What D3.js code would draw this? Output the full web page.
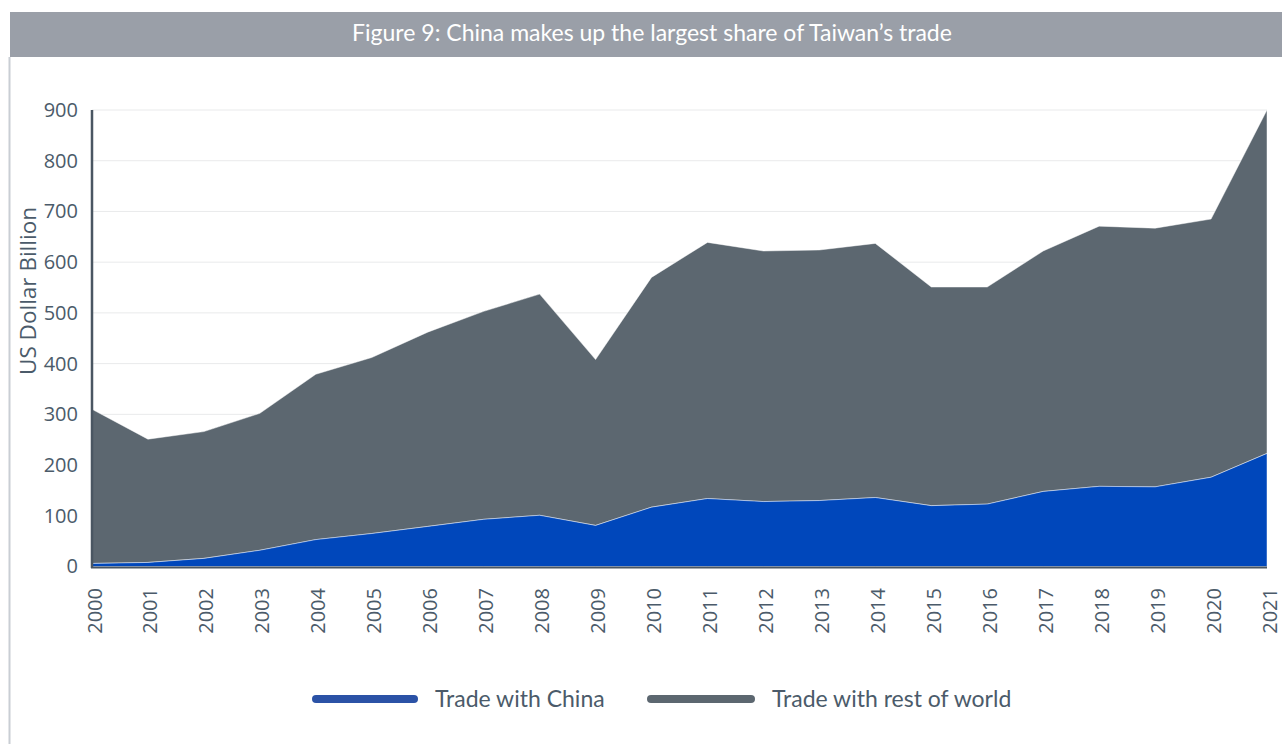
<!DOCTYPE html>
<html>
<head>
<meta charset="utf-8">
<script src="https://cdn.jsdelivr.net/npm/d3@7"></script>
<style>
  html, body { margin: 0; padding: 0; background: #fff; }
  svg { display: block; }
</style>
</head>
<body>
<svg id="chart" width="1282" height="744"></svg>
<script>
// Taiwan's trade, US$ billion
const years = [2000, 2001, 2002, 2003, 2004, 2005, 2006, 2007, 2008, 2009, 2010,
               2011, 2012, 2013, 2014, 2015, 2016, 2017, 2018, 2019, 2020, 2021];
const tradeWithChina = [6, 8, 16, 32, 53, 65, 79, 93, 101, 81, 117,
                        134, 128, 130, 136, 120, 123, 148, 158, 157, 176, 223];
const tradeWithRest = [304, 243, 250, 270, 326, 347, 383, 410, 436, 327, 453,
                       505, 494, 494, 501, 431, 428, 474, 513, 510, 509, 677];
const yTicks = [0, 100, 200, 300, 400, 500, 600, 700, 800, 900];
const seriesNames = ["Trade with China", "Trade with rest of world"];

const colors = { china: "#0047bb", rest: "#5c6770" };
const legendColors = ["#2b52a6", "#5c6770"];
const textColor = "#4b5b6a";

const svg = d3.select("#chart");

// Card frame: header bar and left border
svg.append("rect").attr("x", 10).attr("y", 12).attr("width", 1272).attr("height", 45)
  .attr("fill", "#9a9fa8");
svg.append("line").attr("x1", 9.5).attr("x2", 9.5).attr("y1", 57).attr("y2", 744)
  .attr("stroke", "#c9ced4").attr("stroke-width", 2);
svg.append("text")
  .attr("x", 652).attr("y", 41)
  .attr("text-anchor", "middle")
  .attr("font-family", "Lato, 'Open Sans', sans-serif")
  .attr("font-size", 23)
  .attr("fill", "#ffffff")
  .text("Figure 9: China makes up the largest share of Taiwan\u2019s trade");

const x = d3.scaleLinear().domain([2000, 2021]).range([92, 1267]);
const y = d3.scaleLinear().domain([0, 900]).range([566.5, 110]);

// Gridlines
svg.append("g")
  .selectAll("line")
  .data(yTicks.filter(d => d > 0))
  .join("line")
  .attr("x1", 92).attr("x2", 1267)
  .attr("y1", d => y(d)).attr("y2", d => y(d))
  .attr("stroke", "#e9eaeb").attr("stroke-width", 1);

// Stacked areas
const table = years.map((yr, i) => ({ year: yr, china: tradeWithChina[i], rest: tradeWithRest[i] }));
const stack = d3.stack().keys(["china", "rest"]);
const layers = stack(table);

const area = d3.area()
  .x(d => x(d.data.year))
  .y0(d => y(d[0]))
  .y1(d => y(d[1]));

svg.append("g")
  .selectAll("path")
  .data(layers.slice().reverse())
  .join("path")
  .attr("d", area)
  .attr("fill", d => colors[d.key])
  .attr("stroke", "rgba(255,255,255,0.45)")
  .attr("stroke-width", 1);

// Axes
const yAxis = d3.axisLeft(y).tickValues(yTicks).tickSize(0).tickPadding(14);
const gy = svg.append("g").attr("transform", "translate(92,0)").call(yAxis);
gy.select(".domain").remove();
gy.selectAll("text")
  .attr("font-family", "'Open Sans', 'Noto Sans', sans-serif")
  .attr("font-size", 20)
  .attr("fill", textColor);

svg.append("line").attr("x1", 92).attr("x2", 92).attr("y1", 110).attr("y2", 568)
  .attr("stroke", "#4a5662").attr("stroke-width", 2.5);

const xAxis = d3.axisBottom(x).tickValues(years).tickFormat(d3.format("d")).tickSize(0);
const gx = svg.append("g").attr("transform", "translate(0,567)").call(xAxis);
gx.select(".domain").remove();
gx.selectAll("text")
  .attr("font-family", "'Open Sans', 'Noto Sans', sans-serif")
  .attr("font-size", 20)
  .attr("fill", textColor)
  .attr("text-anchor", "end")
  .attr("dy", null)
  .attr("y", 0)
  .attr("transform", "translate(9,21) rotate(-90)");

svg.append("line").attr("x1", 91).attr("x2", 1267).attr("y1", 567.5).attr("y2", 567.5)
  .attr("stroke", "#4a5662").attr("stroke-width", 2);

// Y axis title
svg.append("text")
  .attr("transform", "translate(36,291) rotate(-90)")
  .attr("text-anchor", "middle")
  .attr("font-family", "'Open Sans', 'Noto Sans', sans-serif")
  .attr("font-size", 22.5)
  .attr("fill", textColor)
  .text("US Dollar Billion");

// Legend
const legendItems = [
  { name: seriesNames[0], x0: 316, x1: 414, tx: 435 },
  { name: seriesNames[1], x0: 651, x1: 751, tx: 772 }
];
const lg = svg.append("g").selectAll("g").data(legendItems).join("g");
lg.append("line")
  .attr("x1", d => d.x0).attr("x2", d => d.x1)
  .attr("y1", 699).attr("y2", 699)
  .attr("stroke", (d, i) => legendColors[i])
  .attr("stroke-width", 8)
  .attr("stroke-linecap", "round");
lg.append("text")
  .attr("x", d => d.tx).attr("y", 707)
  .attr("font-family", "Lato, 'Open Sans', sans-serif")
  .attr("font-size", 23)
  .attr("fill", textColor)
  .text(d => d.name);
</script>
</body>
</html>
